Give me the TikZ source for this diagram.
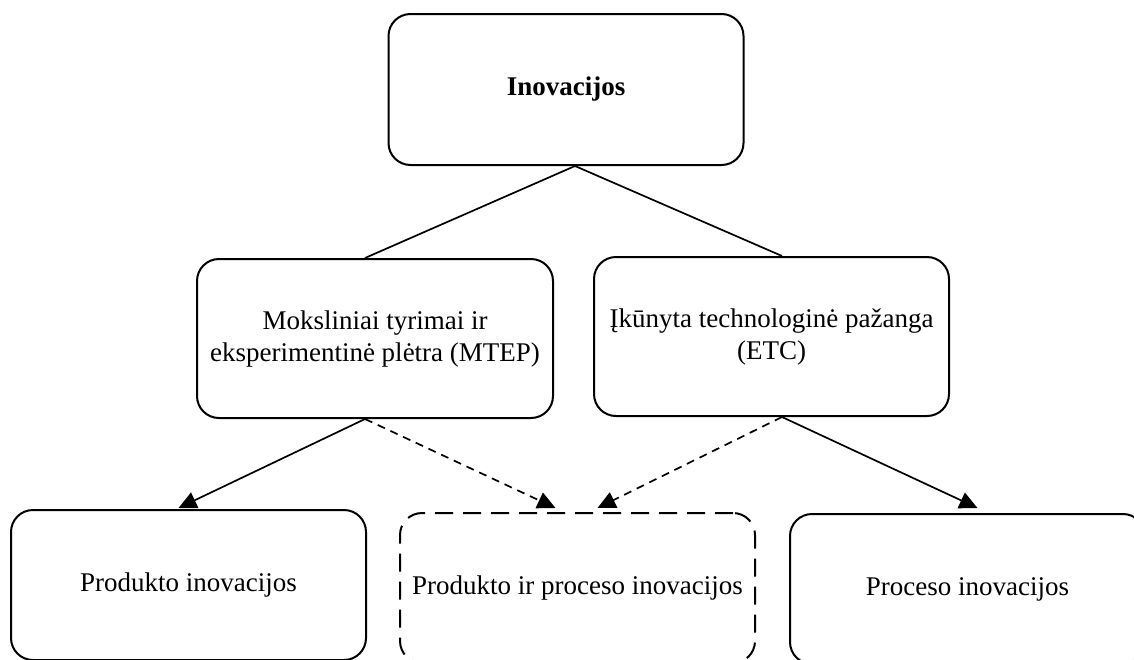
\documentclass[tikz,border=0pt]{standalone}
\usepackage{fontspec}
\setmainfont{Liberation Serif}
\usetikzlibrary{arrows.meta,calc}
\begin{document}
\begin{tikzpicture}[x=1pt,y=-1pt,
  box/.style={draw=black, line width=2pt, rounded corners=22pt, align=center,
    inner sep=0pt, font=\fontsize{27}{32}\selectfont},
  dbox/.style={box, dash pattern=on 18pt off 10pt},
  conn/.style={line width=1.7pt},
  arr/.style={conn, -{Triangle[length=18pt,width=17pt]}},
  darr/.style={arr, dash pattern=on 8pt off 6pt}]
\useasboundingbox (0,0) rectangle (1134,659);
\node[box, minimum width=355pt, minimum height=151pt, font=\fontsize{27}{32}\selectfont\bfseries] (top) at (566,89.5) {Inovacijos};
\node[box, minimum width=356pt, minimum height=159pt] (ml) at (375,338.5) {Moksliniai tyrimai ir\\eksperimentinė plėtra (MTEP)};
\node[box, minimum width=355pt, minimum height=159pt] (mr) at (771.5,336.5) {Įkūnyta technologinė pažanga\\(ETC)};
\node[box, minimum width=355pt, minimum height=150pt] (bl) at (188.5,585) {Produkto inovacijos};
\node[dbox, minimum width=355pt, minimum height=150pt] (bm) at (577.5,588) {Produkto ir proceso inovacijos};
\node[box, minimum width=355pt, minimum height=150pt] (br) at (967.5,589) {Proceso inovacijos};
\coordinate (ts) at ($(top.south)+(9,0)$);
\coordinate (mln) at ($(ml.north)+(-10,0)$);
\coordinate (mrn) at ($(mr.north)+(10.5,0)$);
\coordinate (mls) at ($(ml.south)+(-10,0)$);
\coordinate (mrs) at ($(mr.south)+(10.5,0)$);
\coordinate (blt) at ($(bl.north)+(-10,-1)$);
\coordinate (bmt1) at ($(bm.north)+(-22,-4)$);
\coordinate (bmt2) at ($(bm.north)+(20,-4)$);
\coordinate (brt) at ($(br.north)+(10,-5)$);
\draw[conn] (ts) -- (mln);
\draw[conn] (ts) -- (mrn);
\draw[arr] (mls) -- (blt);
\draw[darr] (mls) -- (bmt1);
\draw[darr] (mrs) -- (bmt2);
\draw[arr] (mrs) -- (brt);
\end{tikzpicture}
\end{document}
